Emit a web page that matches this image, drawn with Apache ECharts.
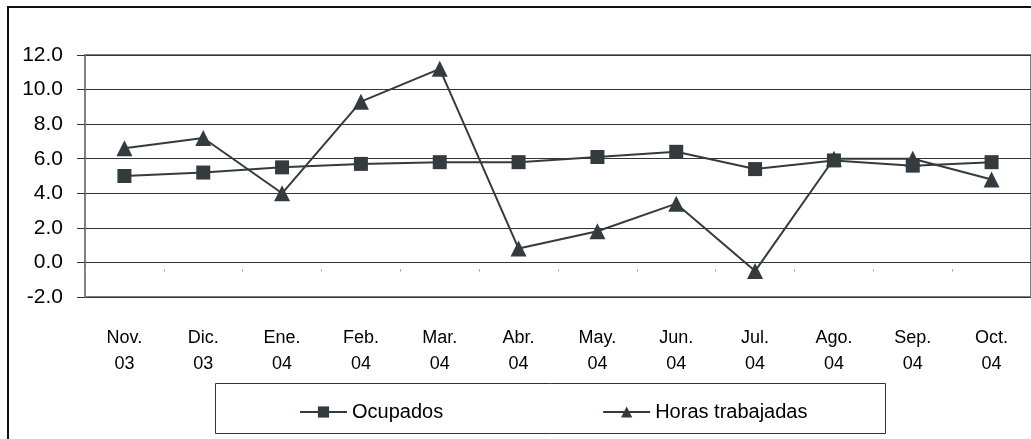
<!DOCTYPE html>
<html>
<head>
<meta charset="utf-8">
<script src="https://cdn.jsdelivr.net/npm/echarts@6/dist/echarts.min.js"></script>
<style>
html,body{margin:0;padding:0;background:#fff;}
#chart{width:1031px;height:439px;}
</style>
</head>
<body>
<div id="chart"></div>
<script>
const categories = ['Nov.\n03','Dic.\n03','Ene.\n04','Feb.\n04','Mar.\n04','Abr.\n04','May.\n04','Jun.\n04','Jul.\n04','Ago.\n04','Sep.\n04','Oct.\n04'];
const ocupados = [5.0, 5.2, 5.5, 5.7, 5.8, 5.8, 6.1, 6.4, 5.4, 5.9, 5.6, 5.8];
const horasTrabajadas = [6.6, 7.2, 4.0, 9.3, 11.2, 0.8, 1.8, 3.4, -0.5, 6.0, 6.0, 4.8];
const yTicks = {min: -2, max: 12, interval: 2};

const FONT = "'Liberation Sans', Arial, sans-serif";
const INK = '#343b3f';

const chart = echarts.init(document.getElementById('chart'), null, {renderer: 'canvas'});
chart.setOption({
  animation: false,
  backgroundColor: '#fff',
  textStyle: {fontFamily: FONT, color: '#000'},
  graphic: [
    {type: 'rect', shape: {x: 8, y: 7, width: 1100, height: 520}, style: {fill: 'none', stroke: '#111', lineWidth: 2}, silent: true, z: 0},
    {type: 'rect', shape: {x: 215.5, y: 383.5, width: 670, height: 50}, style: {fill: 'none', stroke: '#333', lineWidth: 1}, silent: true, z: 0}
  ],
  grid: {left: 85, top: 55, width: 952, height: 242, show: true, borderColor: '#808080', borderWidth: 2, backgroundColor: 'transparent'},
  legend: {
    left: 294, top: 397, itemWidth: 47, itemHeight: 14, itemGap: 159,
    textStyle: {fontFamily: FONT, fontSize: 20, color: '#000'},
    data: ['Ocupados', 'Horas trabajadas']
  },
  xAxis: [
    {
      type: 'category', data: categories, position: 'bottom',
      axisLine: {show: false, onZero: false},
      axisTick: {show: false},
      axisLabel: {fontFamily: FONT, fontSize: 18, color: '#000', lineHeight: 26, margin: 28, interval: 0}
    },
    {
      type: 'category', data: categories, position: 'bottom',
      axisLine: {show: false, onZero: true},
      axisTick: {show: true, length: 10, lineStyle: {color: '#999', width: 1, type: [0, 7, 2, 20]}},
      axisLabel: {show: false}
    }
  ],
  yAxis: {
    type: 'value', min: yTicks.min, max: yTicks.max, interval: yTicks.interval,
    axisLine: {show: true, lineStyle: {color: '#808080', width: 2}},
    axisTick: {show: true, length: 8, lineStyle: {color: '#333', width: 1}},
    axisLabel: {fontFamily: FONT, fontSize: 21, color: '#000', margin: 22, formatter: v => v.toFixed(1)},
    splitLine: {show: true, lineStyle: {color: '#333', width: 1}}
  },
  series: [
    {
      name: 'Ocupados', type: 'line', data: ocupados, xAxisIndex: 0,
      symbol: 'rect', symbolSize: 14,
      lineStyle: {color: INK, width: 2}, itemStyle: {color: INK}, z: 3
    },
    {
      name: 'Horas trabajadas', type: 'line', data: horasTrabajadas, xAxisIndex: 0,
      symbol: 'triangle', symbolSize: 16,
      lineStyle: {color: INK, width: 2}, itemStyle: {color: INK}, z: 4
    }
  ]
});
</script>
</body>
</html>
